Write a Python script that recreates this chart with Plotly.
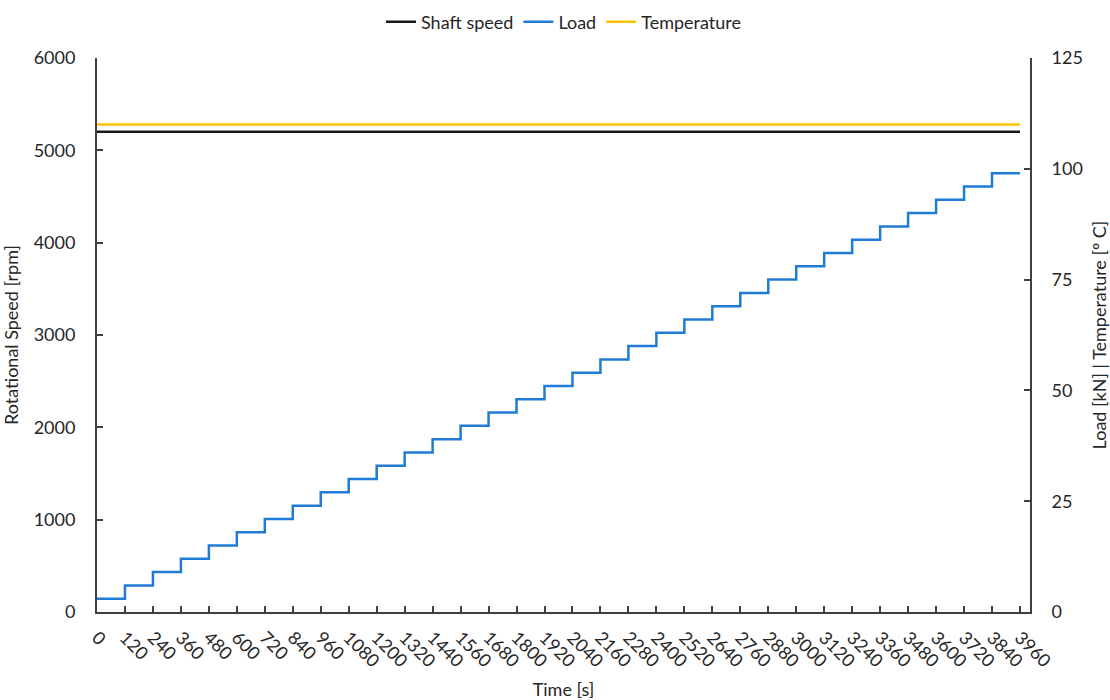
import plotly.graph_objects as go

# Data
time_s = [0, 120, 240, 360, 480, 600, 720, 840, 960, 1080, 1200, 1320, 1440, 1560,
          1680, 1800, 1920, 2040, 2160, 2280, 2400, 2520, 2640, 2760, 2880, 3000,
          3120, 3240, 3360, 3480, 3600, 3720, 3840, 3960]
load_kn = [3, 6, 9, 12, 15, 18, 21, 24, 27, 30, 33, 36, 39, 42, 45, 48, 51, 54,
           57, 60, 63, 66, 69, 72, 75, 78, 81, 84, 87, 90, 93, 96, 99, 99]
shaft_time = [0, 3960]
shaft_rpm = [5200, 5200]
temp_time = [0, 3960]
temp_c = [110, 110]
x_ticks = [0, 120, 240, 360, 480, 600, 720, 840, 960, 1080, 1200, 1320, 1440, 1560,
           1680, 1800, 1920, 2040, 2160, 2280, 2400, 2520, 2640, 2760, 2880, 3000,
           3120, 3240, 3360, 3480, 3600, 3720, 3840, 3960]

FONT = "Lato, Open Sans, sans-serif"
AX = "#404040"
FS = 18

fig = go.Figure()
fig.add_trace(go.Scatter(x=shaft_time, y=shaft_rpm, mode="lines", name="Shaft speed",
                         line=dict(color="#1a1a1a", width=2.5)))
fig.add_trace(go.Scatter(x=time_s, y=load_kn, mode="lines", name="Load", yaxis="y2",
                         line=dict(color="#1f7bd6", width=2.5, shape="hv")))
fig.add_trace(go.Scatter(x=temp_time, y=temp_c, mode="lines", name="Temperature", yaxis="y2",
                         line=dict(color="#ffc000", width=2.5)))

fig.update_layout(
    width=1110, height=700,
    margin=dict(l=97, r=80, t=58, b=88, autoexpand=False),
    paper_bgcolor="white", plot_bgcolor="white",
    font=dict(family=FONT, size=FS, color="#262626"),
    showlegend=True,
    legend=dict(orientation="h", x=0.5, xanchor="center", y=1.065, yanchor="middle",
                font=dict(size=FS), itemwidth=30, traceorder="normal",
                tracegroupgap=0),
    xaxis=dict(range=[0, 4003], tickmode="array", tickvals=x_ticks,
               ticktext=[str(v) for v in x_ticks], tickangle=45,
               ticks="inside", ticklen=6, tickcolor=AX, tickwidth=1.5,
               showline=True, linecolor=AX, linewidth=2, showgrid=False, zeroline=False,
               ticklabelstandoff=6, automargin=False,
               title=dict(text="Time [s]", standoff=14, font=dict(size=FS)),
               tickfont=dict(size=FS)),
    yaxis=dict(range=[0, 6000], tickvals=[0, 1000, 2000, 3000, 4000, 5000, 6000],
               ticks="inside", ticklen=6, tickcolor=AX, tickwidth=1.5,
               showline=True, linecolor=AX, linewidth=2, showgrid=False, zeroline=False,
               ticklabelstandoff=16, automargin=False,
               title=dict(text="Rotational Speed [rpm]", standoff=14, font=dict(size=FS)),
               tickfont=dict(size=FS)),
    yaxis2=dict(range=[0, 125], tickvals=[0, 25, 50, 75, 100, 125], overlaying="y", side="right",
                ticks="inside", ticklen=6, tickcolor=AX, tickwidth=1.5,
                showline=True, linecolor=AX, linewidth=2, showgrid=False, zeroline=False,
                ticklabelstandoff=16, automargin=False,
                title=dict(text="Load [kN] | Temperature [º C]", standoff=16, font=dict(size=FS)),
                tickfont=dict(size=FS)),
)
fig.write_html("out.html")
